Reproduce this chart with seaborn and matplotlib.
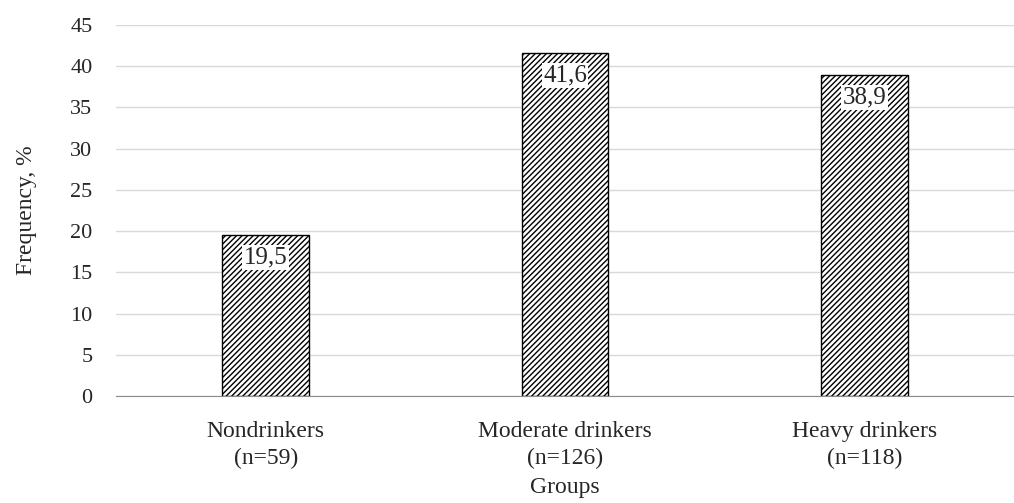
import pandas as pd
import seaborn as sns
import matplotlib.pyplot as plt

groups = ["Nondrinkers\n(n=59)", "Moderate drinkers\n(n=126)", "Heavy drinkers\n(n=118)"]
frequency = [19.5, 41.6, 38.9]
yticks = [0, 5, 10, 15, 20, 25, 30, 35, 40, 45]

df = pd.DataFrame({"Groups": groups, "Frequency": frequency})

sns.set_style("white")
plt.rcParams["font.family"] = ["Liberation Serif", "DejaVu Serif"]
plt.rcParams["hatch.linewidth"] = 1.0

fig = plt.figure(figsize=(10.14, 5.03), dpi=100)
ax = fig.add_axes([116 / 1014, 1 - 396 / 503, 1 - 116 / 1014, (396 - 25) / 503])

sns.barplot(data=df, x="Groups", y="Frequency", color="white", edgecolor="black",
            linewidth=1, width=0.29, hatch="//////", ax=ax)

# value labels sit inside the top of each bar on a white box
labels = [f"{v:.1f}".replace(".", ",") for v in frequency]
ax.bar_label(ax.containers[0], labels=labels, padding=-24, fontsize=18,
             bbox=dict(facecolor="white", edgecolor="none", pad=1))

ax.set_ylim(0, 45)
ax.set_yticks(yticks)
ax.set_xlim(-0.5, -0.5 + 898 / 303)
ax.yaxis.grid(True, color="#d9d9d9", linewidth=1)
ax.set_axisbelow(True)
for s in ["top", "right", "left"]:
    ax.spines[s].set_visible(False)
ax.spines["bottom"].set_color("#8c8c8c")

ax.set_xticks([0, 1, 2])
ax.set_xticks([-0.49, 0.5, 1.5, 2.5], minor=True)
ax.tick_params(axis="x", which="major", length=0, labelsize=17, pad=18)
ax.tick_params(axis="x", which="minor", direction="inout", length=11, color="#555555", width=1.2)
ax.tick_params(axis="y", length=0, labelsize=16, pad=17)
for t in ax.get_xticklabels():
    t.set_linespacing(1.35)

ax.set_xlabel("Groups", fontsize=17, labelpad=6)
ax.set_ylabel("Frequency, %", fontsize=17, labelpad=24)

fig.savefig("out.png", dpi=100)
